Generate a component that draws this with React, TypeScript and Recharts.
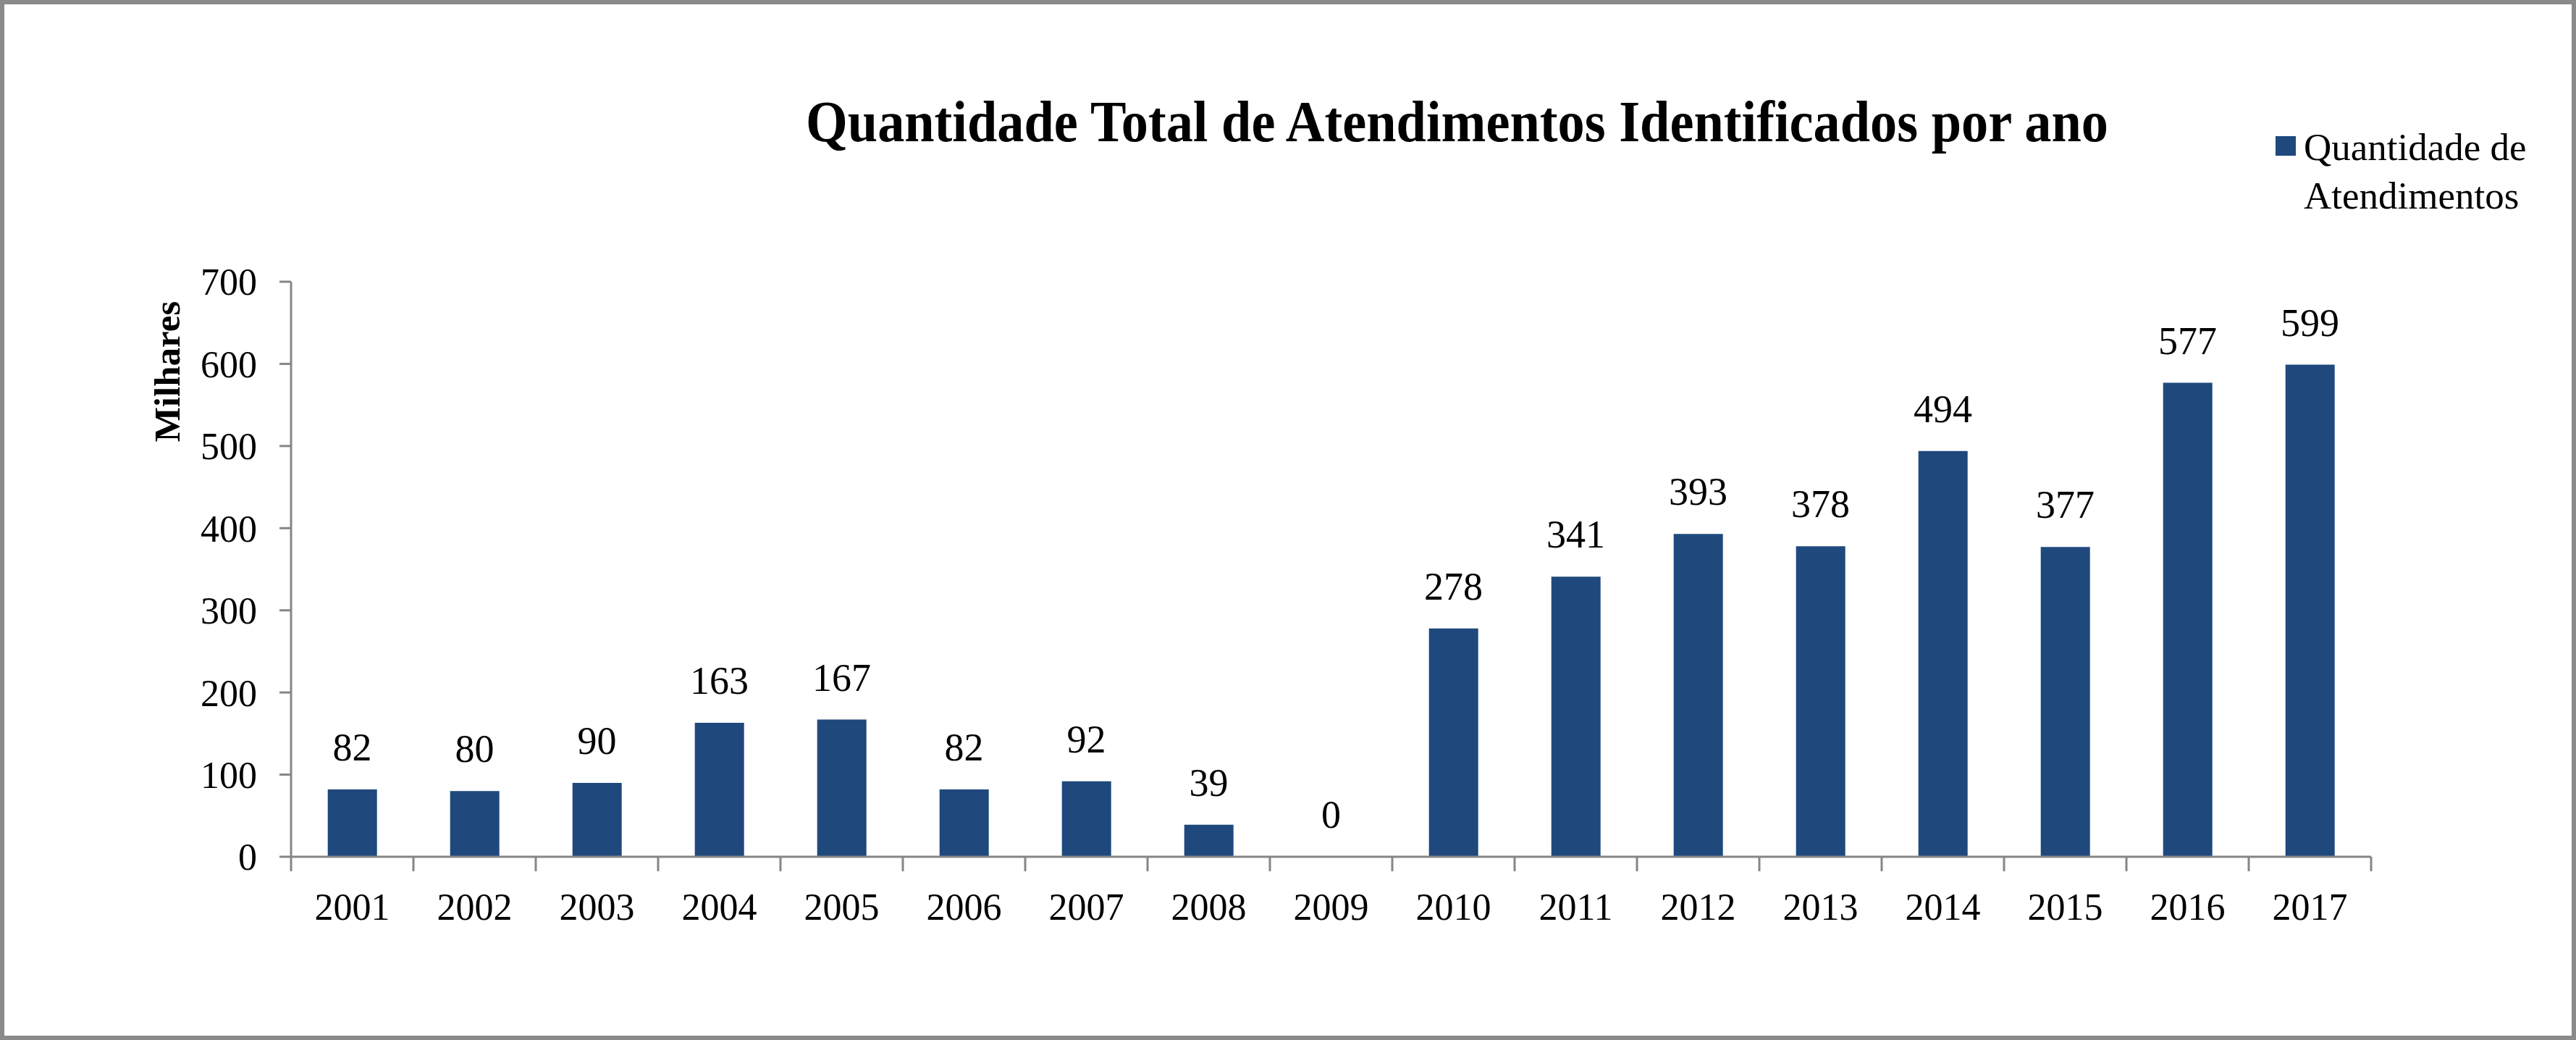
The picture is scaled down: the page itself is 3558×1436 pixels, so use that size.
import React from 'react';
import { ComposedChart, Bar, Line, XAxis, YAxis, LabelList, Legend } from 'recharts';

const years = ['2001','2002','2003','2004','2005','2006','2007','2008','2009','2010','2011','2012','2013','2014','2015','2016','2017'];
const atendimentos = [82, 80, 90, 163, 167, 82, 92, 39, 0, 278, 341, 393, 378, 494, 377, 577, 599];
const yTicks = [0, 100, 200, 300, 400, 500, 600, 700];

const seriesName = 'Quantidade de Atendimentos';
const titleText = 'Quantidade Total de Atendimentos Identificados por ano';
const yLabel = 'Milhares';

const data = years.map((y, i) => ({ year: y, value: atendimentos[i] }));

const W = 3558;
const H = 1436;
const FONT = '"Liberation Serif", "Times New Roman", serif';
const BAR = '#1F497D';
const AXIS = '#868686';
const MARGIN = { top: 389, right: 283, bottom: 153, left: 302 };
const Y_AXIS_W = 100;
const PLOT_W = W - MARGIN.left - MARGIN.right - Y_AXIS_W;
const BAND = PLOT_W / years.length;
const TICK_LEN = 20;

const XTick = (props: any) => {
  const { x, y, payload, index } = props;
  const axisY = y - TICK_LEN - 30;
  const left = x - BAND / 2;
  const right = x + BAND / 2;
  return (
    <g>
      <line x1={left} y1={axisY} x2={right} y2={axisY} stroke={AXIS} strokeWidth={3} />
      <line x1={left} y1={axisY} x2={left} y2={axisY + TICK_LEN} stroke={AXIS} strokeWidth={3} />
      {index === years.length - 1 && (
        <line x1={right} y1={axisY} x2={right} y2={axisY + TICK_LEN} stroke={AXIS} strokeWidth={3} />
      )}
      <text x={x} y={y} dy={37} textAnchor="middle" fontFamily={FONT} fontSize={52} fill="#000">
        {payload.value}
      </text>
    </g>
  );
};

const ValueLabel = (props: any) => {
  const { x, y, value } = props;
  return (
    <text x={x} y={y - 40} textAnchor="middle" fontFamily={FONT} fontSize={54} fill="#000">
      {value}
    </text>
  );
};

const renderLegend = (props: any) => {
  const item = (props.payload || []).find((p: any) => p.type !== 'none');
  if (!item) return null;
  return (
    <div style={{ display: 'flex', alignItems: 'flex-start', fontFamily: FONT, fontSize: 53, color: '#000', lineHeight: '67px' }}>
      <div style={{ width: 28, height: 27, background: item.color, marginTop: 18, marginRight: 11, flexShrink: 0 }} />
      <div style={{ width: 330 }}>
        <div>Quantidade de</div>
        <div>Atendimentos</div>
      </div>
    </div>
  );
};

export default function App() {
  return (
    <div style={{ position: 'absolute', left: 0, top: 0, width: W, height: H, background: '#fff' }}>
      <ComposedChart
        width={W}
        height={H}
        data={data}
        margin={MARGIN}
        barCategoryGap="30%"
      >
        <XAxis
          dataKey="year"
          axisLine={false}
          tickLine={false}
          height={100}
          tickSize={TICK_LEN}
          tickMargin={30}
          interval={0}
          tick={<XTick />}
        />
        <YAxis
          width={Y_AXIS_W}
          domain={[0, 700]}
          ticks={yTicks}
          interval={0}
          tickSize={16}
          tickMargin={31}
          axisLine={{ stroke: AXIS, strokeWidth: 3 }}
          tickLine={{ stroke: AXIS, strokeWidth: 3 }}
          tick={{ fontFamily: FONT, fontSize: 52, fill: '#000' }}
        />
        <Legend
          content={renderLegend}
          layout="horizontal"
          verticalAlign="middle"
          align="center"
          wrapperStyle={{ left: 3143, top: 170, width: 400, height: 140 }}
        />
        <Bar dataKey="value" name={seriesName} fill={BAR} isAnimationActive={false} />
        <Line
          dataKey="value"
          stroke="none"
          dot={false}
          activeDot={false}
          legendType="none"
          isAnimationActive={false}
        >
          <LabelList dataKey="value" content={<ValueLabel />} />
        </Line>
      </ComposedChart>
      <svg width={W} height={H} style={{ position: 'absolute', left: 0, top: 0, pointerEvents: 'none' }}>
        <text
          x={1113}
          y={195}
          textLength={1799}
          lengthAdjust="spacingAndGlyphs"
          fontFamily={FONT}
          fontWeight="bold"
          fontSize={80}
          fill="#000"
        >
          {titleText}
        </text>
        <text
          x={0}
          y={0}
          transform="translate(248, 513) rotate(-90)"
          textAnchor="middle"
          fontFamily={FONT}
          fontWeight="bold"
          fontSize={51}
          fill="#000"
        >
          {yLabel}
        </text>
        <rect x={3} y={3} width={W - 6} height={H - 6} fill="none" stroke="#8a8a8a" strokeWidth={6} />
      </svg>
    </div>
  );
}
